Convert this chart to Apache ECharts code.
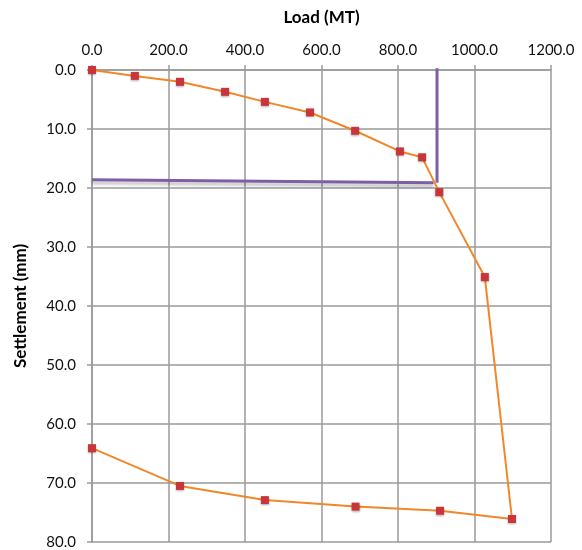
<!DOCTYPE html>
<html>
<head>
<meta charset="utf-8">
<script src="https://cdn.jsdelivr.net/npm/echarts@6/dist/echarts.min.js"></script>
<style>html,body{margin:0;padding:0;background:#fff}#c{width:582px;height:550px}</style>
</head>
<body>
<div id="c"></div>
<script>
var loads = [0, 112, 230, 348, 452, 570, 688, 805, 863, 908, 1027, 1098, 910, 689, 452, 230, 0];
var settlements = [0, 1.0, 2.0, 3.7, 5.4, 7.2, 10.3, 13.8, 14.8, 20.7, 35.1, 76.1, 74.7, 74.0, 72.9, 70.5, 64.1];
var vLineX = [902, 902];
var vLineY = [-0.3, 19.1];
var hLineX = [0, 893];
var hLineY = [18.6, 19.1];
var xTicks = [0, 200, 400, 600, 800, 1000, 1200];
var yTicks = [0, 10, 20, 30, 40, 50, 60, 70, 80];

function zip(a, b) { return a.map(function (v, i) { return [v, b[i]]; }); }

var font = 'Lato, "Open Sans", sans-serif';
var chart = echarts.init(document.getElementById('c'));
chart.setOption({
  animation: false,
  grid: { left: 92, right: 31, top: 70, bottom: 8, containLabel: false, outerBoundsMode: 'none' },
  xAxis: {
    type: 'value', position: 'top', min: xTicks[0], max: xTicks[xTicks.length - 1], interval: 200,
    name: 'Load (MT)', nameLocation: 'middle', nameGap: 44,
    nameTextStyle: { fontFamily: font, fontWeight: 'bold', fontSize: 17, color: '#000' },
    axisLine: { show: true, lineStyle: { color: '#9a9a9a', width: 1.5 } },
    axisTick: { show: true, length: 5, lineStyle: { color: '#9a9a9a', width: 1.5 } },
    axisLabel: { fontFamily: font, fontSize: 15, color: '#111', margin: 12, formatter: function (v) { return v.toFixed(1); } },
    splitLine: { show: true, lineStyle: { color: '#9a9a9a', width: 1.5 } }
  },
  yAxis: {
    type: 'value', inverse: true, min: yTicks[0], max: yTicks[yTicks.length - 1], interval: 10,
    name: 'Settlement (mm)', nameLocation: 'middle', nameGap: 63, nameRotate: 90,
    nameTextStyle: { fontFamily: font, fontWeight: 'bold', fontSize: 17, color: '#000' },
    axisLine: { show: true, lineStyle: { color: '#9a9a9a', width: 1.5 } },
    axisTick: { show: true, length: 5, lineStyle: { color: '#9a9a9a', width: 1.5 } },
    axisLabel: { fontFamily: font, fontSize: 15, color: '#111', margin: 16, formatter: function (v) { return v.toFixed(1); } },
    splitLine: { show: true, lineStyle: { color: '#9a9a9a', width: 1.5 } }
  },
  series: [
    {
      type: 'line', data: zip(hLineX, hLineY), symbol: 'none', clip: false, z: 3,
      lineStyle: { color: '#7d5fa6', width: 3, shadowColor: 'rgba(0,0,0,0.25)', shadowBlur: 3, shadowOffsetY: 3 }
    },
    {
      type: 'line', data: zip(vLineX, vLineY), symbol: 'none', clip: false, z: 3,
      lineStyle: { color: '#7d5fa6', width: 3 }
    },
    {
      type: 'line', data: zip(loads, settlements), z: 4, clip: false,
      symbol: 'rect', symbolSize: 8,
      lineStyle: { color: '#f0872b', width: 2 },
      itemStyle: { color: '#c8363a', borderWidth: 0, shadowColor: 'rgba(0,0,0,0.3)', shadowBlur: 2, shadowOffsetY: 1 }
    }
  ]
});
</script>
</body>
</html>
